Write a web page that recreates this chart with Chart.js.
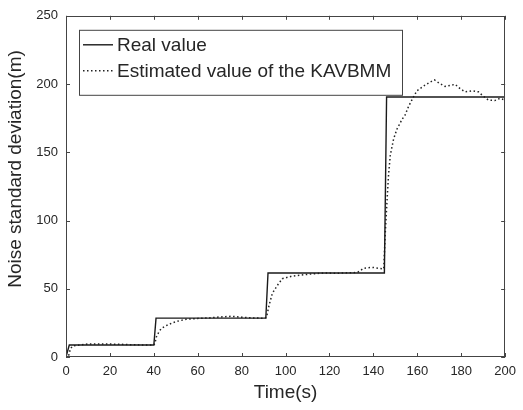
<!DOCTYPE html>
<html>
<head>
<meta charset="utf-8">
<script src="https://cdn.jsdelivr.net/npm/chart.js@4.4.1/dist/chart.umd.min.js"></script>
<style>
  body { margin: 0; background: #fff; }
</style>
</head>
<body>
<canvas id="myChart" width="523" height="410"></canvas>
<script>
// real noise level (step changes)
var realTime = [0, 1.5, 40, 41, 91, 92, 145, 146, 200];
var realValue = [0, 8.8, 8.8, 28.5, 28.5, 61.5, 61.5, 190.5, 190.5];

// KAVBMM estimate
var estTime = [1.2, 2, 3, 5, 10, 15, 20, 25, 30, 35, 40, 40.5, 41.1, 42.6, 44, 45.6, 48.7, 51.5, 54.7, 60, 65, 70, 75, 80, 85, 90,
  91.3, 92.5, 94, 96.3, 98.5, 100, 103, 107, 112, 118, 123, 127, 131, 133, 135.6, 139.4, 142.4, 144.7,
  145.4, 146.2, 146.9, 147.7, 149.2, 150.7, 153, 154.5, 156, 158.3, 159.8, 162, 163.5, 165.8, 167.8, 170.4, 172.6,
  174.9, 177.2, 179.5, 181.7, 185.5, 187.8, 190, 192.3, 195.3, 197.6, 200];
var estValue = [1, 6, 8, 8.5, 9.5, 9.6, 9.5, 9.3, 9, 8.8, 8.8, 10, 14.5, 19.3, 21.5, 23, 25.2, 26.5, 27.6, 28.3, 28.6, 29.3, 29.8, 29.2, 28.6, 28.4,
  29, 38, 46.7, 52.6, 57.4, 58, 59.3, 60, 60.9, 61.6, 61.3, 61.6, 61.8, 62.3, 65, 65.7, 65, 64.5,
  90.7, 114.5, 133.6, 147.9, 159.8, 166.9, 174, 177.6, 183.6, 190.7, 195, 197.5, 199.2, 201.4, 203, 200.2, 198.3,
  199, 199.8, 196.6, 194.3, 195, 194.3, 191.2, 188.3, 187.9, 189.5, 188.3];

var xTicks = [0, 20, 40, 60, 80, 100, 120, 140, 160, 180, 200];
var yTicks = [0, 50, 100, 150, 200, 250];

var font = '"Liberation Sans", Arial, Helvetica, sans-serif';
var ink = '#262626';

// matlab style box, inward ticks, legend and axis titles
var frame = {
  id: 'frame',
  afterDatasetsDraw: function (chart) {
    var ctx = chart.ctx, a = chart.chartArea;
    var xs = chart.scales.x, ys = chart.scales.y;
    ctx.save();
    ctx.strokeStyle = '#444';
    ctx.lineWidth = 1;
    ctx.setLineDash([]);
    ctx.strokeRect(Math.round(a.left) + 0.5, Math.round(a.top) + 0.5,
      Math.round(a.width) - 1, Math.round(a.height) - 1);
    ctx.beginPath();
    xTicks.forEach(function (v) {
      var px = Math.round(xs.getPixelForValue(v)) + 0.5;
      ctx.moveTo(px, a.bottom); ctx.lineTo(px, a.bottom - 4);
      ctx.moveTo(px, a.top); ctx.lineTo(px, a.top + 4);
    });
    yTicks.forEach(function (v) {
      var py = Math.round(ys.getPixelForValue(v)) + 0.5;
      ctx.moveTo(a.left, py); ctx.lineTo(a.left + 4, py);
      ctx.moveTo(a.right, py); ctx.lineTo(a.right - 4, py);
    });
    ctx.stroke();

    // legend
    var lx = a.left + 13, ly = a.top + 14, lw = 323, lh = 65;
    ctx.fillStyle = '#fff';
    ctx.fillRect(lx, ly, lw, lh);
    ctx.strokeStyle = '#444';
    ctx.strokeRect(lx + 0.5, ly + 0.5, lw, lh);
    ctx.font = '19px ' + font;
    ctx.textBaseline = 'middle';
    ctx.textAlign = 'left';
    chart.data.datasets.forEach(function (ds, i) {
      var cy = ly + 15 + i * 26;
      ctx.strokeStyle = ds.borderColor;
      ctx.lineWidth = ds.borderWidth;
      ctx.setLineDash(ds.borderDash || []);
      ctx.beginPath();
      ctx.moveTo(lx + 4, cy);
      ctx.lineTo(lx + 34, cy);
      ctx.stroke();
      ctx.fillStyle = ink;
      ctx.fillText(ds.label, lx + 38, cy + 1);
    });
    ctx.setLineDash([]);

    // axis titles
    ctx.fillStyle = ink;
    ctx.textAlign = 'center';
    ctx.fillText('Time(s)', (a.left + a.right) / 2, 393);
    ctx.translate(16, 169);
    ctx.rotate(-Math.PI / 2);
    ctx.fillText('Noise standard deviation(m)', 0, 0);
    ctx.restore();
  }
};

var ctx = document.getElementById('myChart').getContext('2d');
var chart = new Chart(ctx, {
  type: 'line',
  data: {
    datasets: [{
      label: 'Real value',
      data: realTime.map(function (t, i) { return { x: t, y: realValue[i] }; }),
      borderColor: '#1a1a1a',
      borderWidth: 1.4,
      pointRadius: 0,
      tension: 0
    }, {
      label: 'Estimated value of the KAVBMM',
      data: estTime.map(function (t, i) { return { x: t, y: estValue[i] }; }),
      borderColor: '#222',
      borderWidth: 1.5,
      borderDash: [1.5, 2.5],
      pointRadius: 0,
      tension: 0
    }]
  },
  options: {
    responsive: false,
    animation: false,
    layout: { padding: { top: 7, right: 16, left: 0, bottom: 0 } },
    plugins: { legend: { display: false }, tooltip: { enabled: false } },
    scales: {
      x: {
        type: 'linear',
        min: 0, max: 200,
        afterFit: function (s) { s.height = 53; },
        afterBuildTicks: function (s) { s.ticks = xTicks.map(function (v) { return { value: v }; }); },
        grid: { display: false, drawTicks: false },
        border: { display: false },
        ticks: { color: ink, font: { family: font, size: 13 }, padding: 7, maxRotation: 0 }
      },
      y: {
        min: 0, max: 250,
        afterFit: function (s) { s.width = 66; },
        afterBuildTicks: function (s) { s.ticks = yTicks.map(function (v) { return { value: v }; }); },
        grid: { display: false, drawTicks: false },
        border: { display: false },
        ticks: { color: ink, font: { family: font, size: 13 }, padding: 8 }
      }
    }
  },
  plugins: [frame]
});
</script>
</body>
</html>
